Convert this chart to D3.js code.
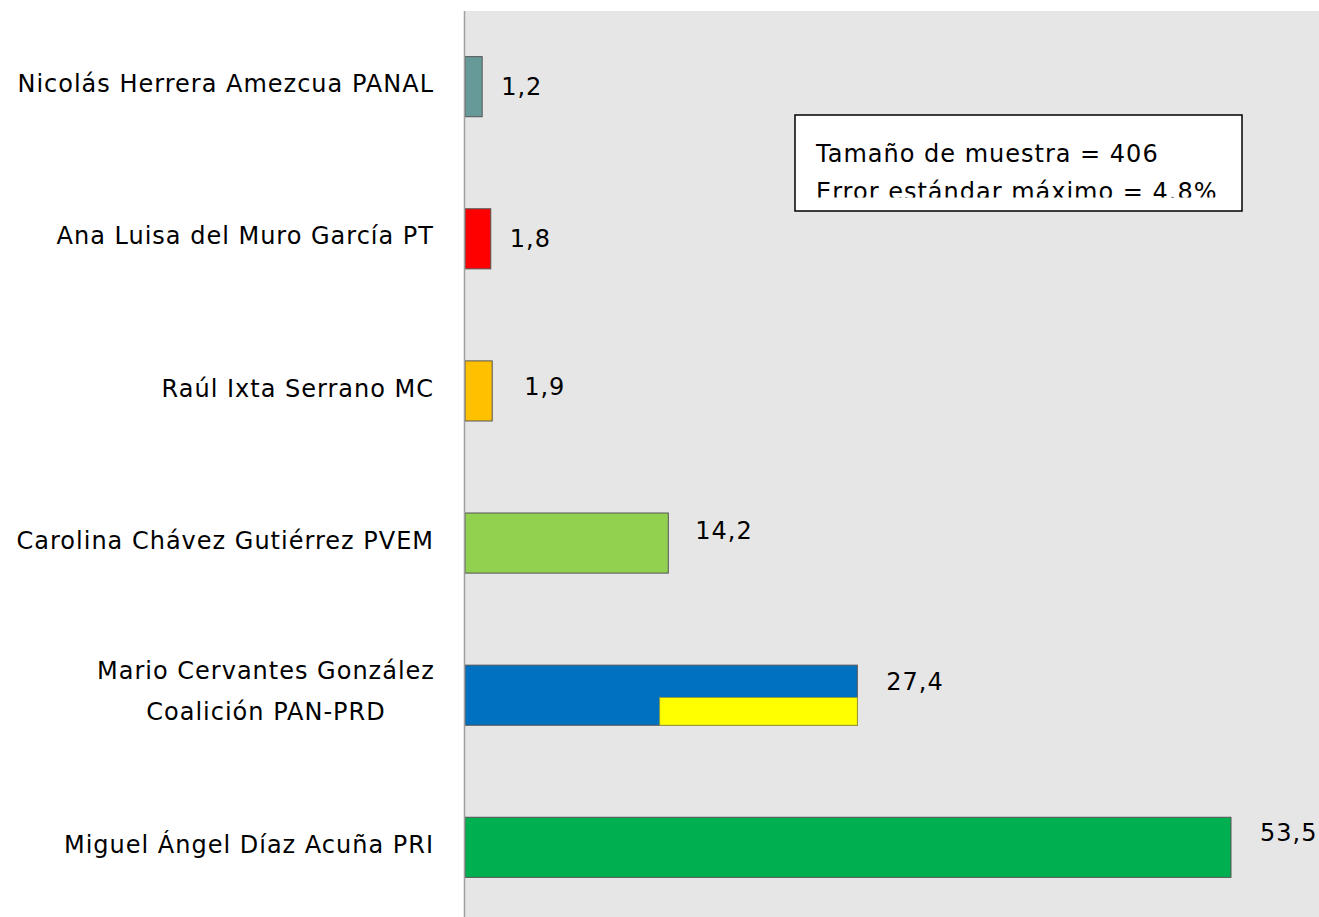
<!DOCTYPE html>
<html><head><meta charset="utf-8">
<script src="https://cdn.jsdelivr.net/npm/d3@7"></script>
<style>body{margin:0;background:#fff}svg{display:block}text{font-family:"DejaVu Sans",sans-serif;letter-spacing:1px}</style>
</head><body><svg id="c" width="1319" height="917"></svg>
<script>
const candidates = ["Nicolás Herrera Amezcua PANAL","Ana Luisa del Muro García PT","Raúl Ixta Serrano MC","Carolina Chávez Gutiérrez PVEM","Mario Cervantes González\nCoalición PAN-PRD","Miguel Ángel Díaz Acuña PRI"];
const values = [1.2, 1.8, 1.9, 14.2, 27.4, 53.5];
const valueLabels = ["1,2","1,8","1,9","14,2","27,4","53,5"];
const colors = ["#669a98","#ff0000","#ffc000","#92d050","#0070c0","#00b050"];
// secondary segment (PRD share) of the coalition bar: [start, end]
const coalitionSegment = [13.6, 27.4];
const notes = ["Tamaño de muestra = 406","Error estándar máximo = 4.8%"];

const svg = d3.select("#c");
const W = 1319, H = 917;
const m = {left:465, top:11};
const FS = 24;
svg.append("rect").attr("x",m.left).attr("y",m.top).attr("width",W-m.left).attr("height",H-m.top).attr("fill","#e6e6e6");

const x = d3.scaleLinear().domain([0,53.5]).range([m.left, 1231]);
const y = d3.scaleBand().domain(d3.range(candidates.length)).range([11, 923]).paddingInner(0.605).paddingOuter(0.3);

const g = svg.append("g");
g.selectAll("rect.bar").data(values).join("rect").attr("class","bar")
 .attr("x",x(0)).attr("y",(d,i)=>y(i)).attr("width",d=>x(d)-x(0)).attr("height",y.bandwidth())
 .attr("fill",(d,i)=>colors[i]).attr("stroke","#555").attr("stroke-width",1);

// yellow overlay on coalition bar
const ci = 4;
g.append("rect").attr("x",x(coalitionSegment[0])).attr("y",y(ci)+y.bandwidth()*0.54)
 .attr("width",x(coalitionSegment[1])-x(coalitionSegment[0])).attr("height",y.bandwidth()*0.46)
 .attr("fill","#ffff00").attr("stroke","#9a9a30").attr("stroke-width",0.8);

// value labels
const dxs = [19,19,32,27,29,29], dys=[0,0,-4,-12,-13,-14];
g.selectAll("text.val").data(values).join("text").attr("class","val")
 .attr("x",(d,i)=>x(d)+dxs[i]).attr("y",(d,i)=>y(i)+y.bandwidth()/2+dys[i])
 .attr("dy","0.33em").attr("font-size",FS).attr("fill","#000").text((d,i)=>valueLabels[i]);

// axis line
svg.append("line").attr("x1",464.5).attr("x2",464.5).attr("y1",11).attr("y2",H).attr("stroke","#a0a0a0").attr("stroke-width",1.5);

// category labels
candidates.forEach((c,i)=>{
  const lines = c.split("\n");
  const cy = y(i)+y.bandwidth()/2;
  if(lines.length===1){
    svg.append("text").attr("x",434).attr("y",cy-3).attr("dy","0.36em").attr("text-anchor","end").attr("font-size",FS).text(c);
  } else {
    lines.forEach((l,k)=>{
      svg.append("text").attr("x",266).attr("y",cy-4+(k-0.5)*41).attr("dy","0.36em").attr("text-anchor","middle").attr("font-size",FS).text(l);
    });
  }
});

// notes box
const bx=795, by=115, bw=447, bh=96;
svg.append("clipPath").attr("id","bclip").append("rect").attr("x",bx).attr("y",by).attr("width",bw).attr("height",82.5);
svg.append("rect").attr("x",bx).attr("y",by).attr("width",bw).attr("height",bh).attr("fill","#fff").attr("stroke","#000").attr("stroke-width",1.5);
const ng = svg.append("g").attr("clip-path","url(#bclip)");
notes.forEach((t,k)=>{
  ng.append("text").attr("x",816).attr("y",162+k*38).attr("font-size",FS).text(t);
});
</script></body></html>
